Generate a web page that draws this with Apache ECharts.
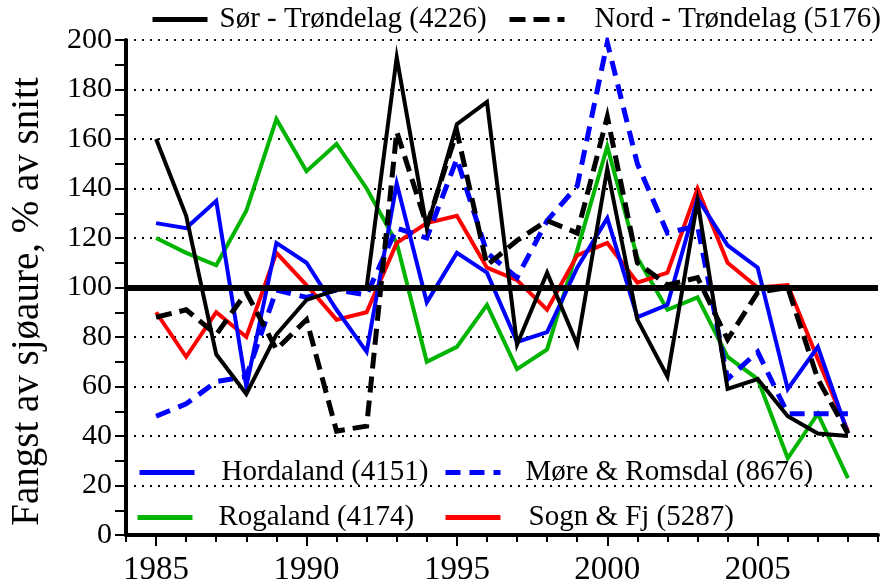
<!DOCTYPE html>
<html>
<head>
<meta charset="utf-8">
<script src="https://cdn.jsdelivr.net/npm/echarts@6/dist/echarts.min.js"></script>
<style>
  html, body { margin: 0; padding: 0; background: #fff; }
  #chart { width: 888px; height: 587px; }
</style>
</head>
<body>
<div id="chart"></div>
<script>
// Catch of sea trout per county, as % of the long-term mean
const years = [1985,1986,1987,1988,1989,1990,1991,1992,1993,1994,1995,1996,1997,1998,1999,2000,2001,2002,2003,2004,2005,2006,2007,2008];
const sorTrondelag  = [160,129,73,57,81,95,99,100,193,124,166,175,77,106,77,148,87,64,135,59,63,48,41,40];
const nordTrondelag = [88,91,81,98,75,87,42,44,163,125,163,109,119,127,122,169,110,101,104,79,98,100,63,41];
const hordaland     = [126,124,135,60,118,110,91,74,142,94,114,106,78,82,108,128,88,93,136,117,108,59,76,41];
const moreRomsdal   = [48,53,62,64,99,96,99,97,124,120,152,114,104,127,141,199,150,122,125,63,74,49,49,49];
const rogaland      = [120,114,109,131,168,147,158,140,118,70,76,93,67,75,115,157,112,91,96,72,63,31,49,23];
const sognFj        = [90,72,90,80,114,101,87,90,118,126,129,108,103,91,113,118,102,106,140,110,100,101,71,42];
const yearLabels = [1985,1990,1995,2000,2005];
const refLevel = 100;

const FONT = "'Liberation Serif', 'Times New Roman', serif";
const pairs = arr => arr.map((v, i) => [years[i], v]);

const seriesDefs = [
  { name: 'Rogaland (4174)',          data: rogaland,      color: '#00b400', dash: 'solid',  width: 4 },
  { name: 'Sogn & Fj (5287)',         data: sognFj,        color: '#ff0000', dash: 'solid',  width: 4 },
  { name: 'Møre & Romsdal (8676)',    data: moreRomsdal,   color: '#0000ff', dash: [15, 9],  width: 5 },
  { name: 'Hordaland (4151)',         data: hordaland,     color: '#0000ff', dash: 'solid',  width: 4 },
  { name: 'Nord - Trøndelag (5176)',  data: nordTrondelag, color: '#000000', dash: [16, 8],  width: 5 },
  { name: 'Sør - Trøndelag (4226)',   data: sorTrondelag,  color: '#000000', dash: 'solid',  width: 4 }
];

const series = seriesDefs.map((d, i) => ({
  name: d.name,
  type: 'line',
  xAxisIndex: 0,
  yAxisIndex: 0,
  data: pairs(d.data),
  symbol: 'none',
  showSymbol: false,
  animation: false,
  z: 2 + i,
  lineStyle: { color: d.color, width: d.width, type: d.dash, cap: 'butt', join: 'miter' },
  itemStyle: { color: d.color }
}));

// thick reference line at the average level
series[series.length - 1].markLine = {
  silent: true,
  symbol: 'none',
  label: { show: false },
  animation: false,
  z: 20,
  lineStyle: { color: '#000', width: 6, type: 'solid' },
  data: [{ yAxis: refLevel }]
};

function legendAt(name, left, top, textPad) {
  return {
    data: [name],
    left: left,
    top: top,
    orient: 'horizontal',
    selectedMode: false,
    itemWidth: 55,
    itemHeight: 1,
    padding: 0,
    lineStyle: { width: 5 },
    itemStyle: { opacity: 0 },
    textStyle: {
      fontFamily: FONT,
      fontSize: 29,
      color: '#000',
      padding: [0, 0, 0, textPad]
    }
  };
}

const option = {
  backgroundColor: '#fff',
  animation: false,
  textStyle: { fontFamily: FONT },
  grid: { left: 122, right: 10, top: 40, bottom: 49, containLabel: false },
  legend: [
    legendAt('Sør - Trøndelag (4226)', 150, 5, 7),
    legendAt('Nord - Trøndelag (5176)', 507, 5, 25),
    legendAt('Hordaland (4151)', 137, 458, 22),
    legendAt('Møre & Romsdal (8676)', 443, 458, 20),
    legendAt('Rogaland (4174)', 135, 503, 21),
    legendAt('Sogn & Fj (5287)', 443, 503, 23)
  ],
  xAxis: [
    {
      type: 'value',
      min: 1984,
      max: 2009,
      interval: 1,
      axisLine: { show: true, lineStyle: { color: '#000', width: 4 } },
      axisTick: { show: true, length: 7, lineStyle: { color: '#000', width: 2 } },
      axisLabel: { show: false },
      splitLine: { show: false }
    },
    {
      type: 'value',
      min: 1984,
      max: 2009,
      position: 'bottom',
      axisLine: { show: false },
      axisTick: { show: true, length: 11, customValues: yearLabels, lineStyle: { color: '#000', width: 2 } },
      axisLabel: {
        show: true,
        customValues: yearLabels,
        formatter: v => String(v),
        margin: 19,
        fontFamily: FONT,
        fontSize: 33,
        color: '#000'
      },
      splitLine: { show: false }
    }
  ],
  yAxis: {
    type: 'value',
    min: 0,
    max: 200,
    interval: 20,
    name: 'Fangst av sjøaure, % av snitt',
    nameLocation: 'middle',
    nameGap: 79,
    nameTextStyle: { fontFamily: FONT, fontSize: 39, color: '#000', padding: [0, 28, 0, 0] },
    axisLine: { show: true, lineStyle: { color: '#000', width: 4 } },
    axisTick: { show: true, length: 11, lineStyle: { color: '#000', width: 2 } },
    minorTick: { show: true, splitNumber: 2, length: 11, lineStyle: { color: '#000', width: 2 } },
    axisLabel: { margin: 14, formatter: v => String(v), fontFamily: FONT, fontSize: 30, color: '#000' },
    splitLine: { show: true, lineStyle: { color: '#000', width: 2, type: [2, 6] } }
  },
  series: series
};

const chart = echarts.init(document.getElementById('chart'), null, { renderer: 'canvas' });
chart.setOption(option);
</script>
</body>
</html>
